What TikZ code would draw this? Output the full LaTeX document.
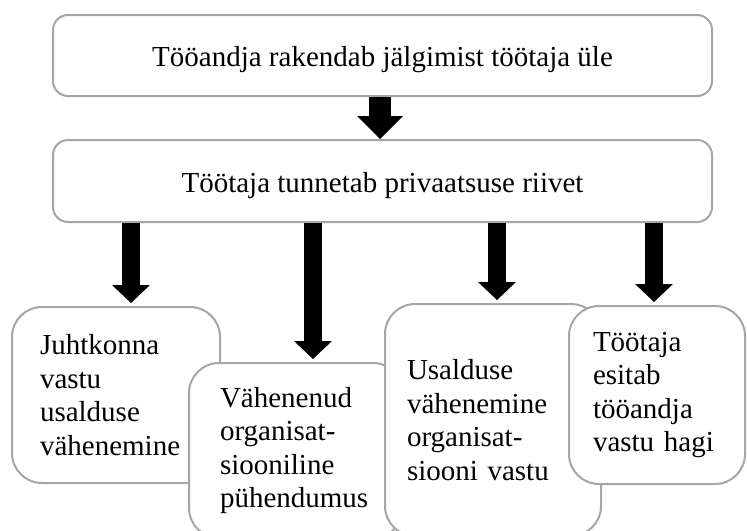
\documentclass[tikz,border=0pt]{standalone}
\usepackage{fontspec}
\setmainfont{Liberation Serif}
\usetikzlibrary{arrows.meta}
\definecolor{boxgray}{HTML}{A6A6A6}
\begin{document}
\begin{tikzpicture}[x=0.5pt,y=-0.5pt,
box/.style={draw=boxgray,line width=1pt,fill=white,rounded corners=7.5pt,minimum width=329.5pt,text height=12.75pt,text depth=1.5pt,font=\fontsize{14.5}{16.75}\selectfont},
leaf/.style={draw=boxgray,line width=1pt,fill=white,rounded corners=15pt,align=left,font=\fontsize{14.5}{16.75}\selectfont},
bigarrow/.style={line width=11pt,-{Triangle[width=23pt,length=11.5pt,line width=0pt]}},
smallarrow/.style={line width=9pt,-{Triangle[width=19pt,length=9pt,line width=0pt]},shorten >=1.5pt}]
\path[use as bounding box,fill=white] (0,0) rectangle (747,530);
\node[box,minimum height=40.5pt] (1)at(382.5,55.5){Tööandja rakendab jälgimist töötaja üle};
\node[box,minimum height=41pt] (2)at(382.5,181){Töötaja tunnetab privaatsuse riivet};
\node[leaf,text width=76pt,inner xsep=14pt,minimum height=88pt] (3)at(116,395){Juhtkonna\\vastu\\usalduse\\vähenemine};
\node[leaf,text width=76pt,inner xsep=15.5pt,minimum height=87.5pt] (4)at(296,450.5){Vähenenud\\organisat-\\siooniline\\pühendumus};
\node[leaf,text width=86pt,inner xsep=11pt,minimum height=116pt] (5)at(493,420){Usalduse\\vähenemine\\organisat-\\siooni vastu};
\node[leaf,text width=64pt,inner xsep=12pt,minimum height=89pt] (6)at(657,395){Töötaja\\esitab\\tööandja\\vastu hagi};
\draw[bigarrow] ([xshift=-1.25pt]1.south) -- ([xshift=-1.25pt]2.north);
\draw[smallarrow] ([xshift=7.5pt]3.north |- 2.south) -- ([xshift=7.5pt]3.north);
\draw[smallarrow] ([xshift=8.5pt]4.north |- 2.south) -- ([xshift=8.5pt]4.north);
\draw[smallarrow] ([xshift=2pt]5.north |- 2.south) -- ([xshift=2pt]5.north);
\draw[smallarrow] ([xshift=-1.5pt]6.north |- 2.south) -- ([xshift=-1.5pt]6.north);
\end{tikzpicture}
\end{document}
